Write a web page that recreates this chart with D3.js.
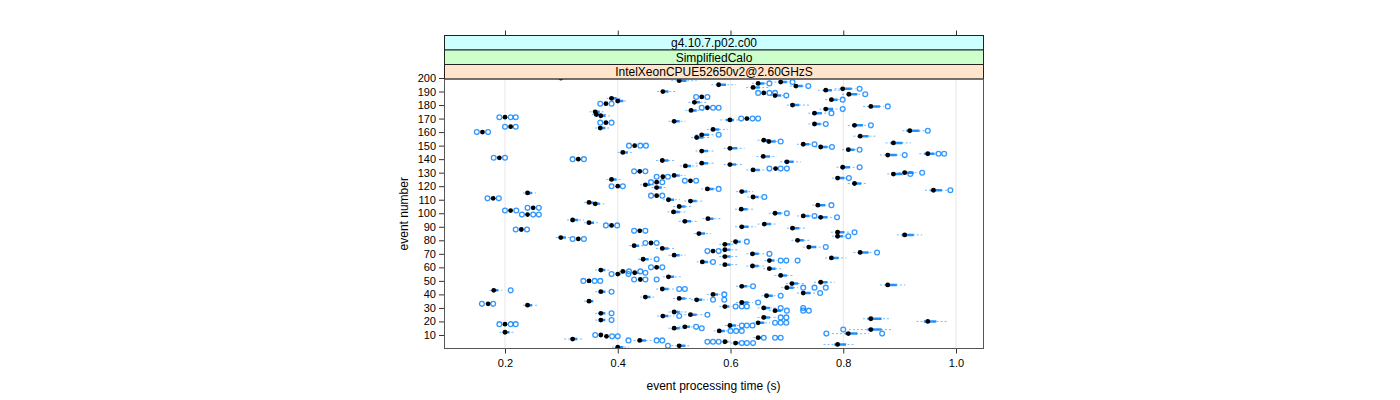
<!DOCTYPE html>
<html><head><meta charset="utf-8">
<script src="https://cdn.jsdelivr.net/npm/d3@7"></script>
<style>
body{margin:0;background:#fff}
svg{display:block}
text{font-family:"Liberation Sans",Arial,Helvetica,sans-serif}
</style>
</head><body>
<svg id="c" width="1400" height="400"></svg>
<script>
// ---- data ----
const stripLabels = ["g4.10.7.p02.c00", "SimplifiedCalo", "IntelXeonCPUE52650v2@2.60GHzS"];
const xTicks = [0.2, 0.4, 0.6, 0.8, 1.0];
const xTickLabels = ["0.2", "0.4", "0.6", "0.8", "1.0"];
const yTicks = [10,20,30,40,50,60,70,80,90,100,110,120,130,140,150,160,170,180,190,200];
const xTitle = "event processing time (s)";
const yTitle = "event number";

const eventNo = [
 200,198,197,196,195,194,193,192,191,190,
 189,188,187,186,185,184,183,182,181,180,
 179,178,177,176,175,174,173,172,171,170,
 169,168,167,166,165,164,163,162,161,160,
 158,157,156,154,153,152,151,150,149,148,
 147,146,145,144,143,142,141,140,139,138,
 137,136,135,134,133,132,131,130,129,128,
 127,126,125,124,123,122,121,120,119,118,
 117,116,115,113,112,111,110,109,108,107,
 106,105,104,103,102,101,100,99,98,97,
 96,95,94,93,92,91,90,89,88,87,
 86,85,84,83,82,81,80,79,78,77,
 76,75,74,73,72,71,70,69,68,67,
 66,65,64,62,61,60,59,58,57,56,
 55,54,53,51,50,49,48,47,46,45,
 44,43,42,41,40,39,38,37,36,35,
 34,33,32,31,30,28,27,26,25,24,
 23,22,21,20,19,18,17,16,15,14,
 13,12,11,10,9,8,7,6,5,4,
 3,2,1];

const median = [
 .299,.509,.689,.649,.579,.716,.640,.799,.769,.480,
 .659,.810,.679,.549,.389,.779,.400,.536,.379,.710,
 .849,.559,.769,.530,.360,.749,.362,.370,.200,.629,
 .599,.500,.379,.749,.820,.210,.369,.569,.918,.160,
 .549,.830,.540,.659,.668,.889,.729,.430,.760,.599,
 .809,.549,.409,.950,.879,.658,.190,.330,.479,.700,
 .549,.599,.520,.799,.680,.640,.439,.909,.889,.500,
 .480,.790,.389,.529,.469,.820,.449,.400,.469,.559,
 .960,.620,.240,.469,.640,.179,.490,.529,.349,.360,
 .755,.509,.250,.619,.210,.499,.679,.240,.729,.760,
 .560,.320,.519,.349,.660,.389,.620,.710,.229,.439,
 .790,.544,.909,.790,.299,.330,.719,.609,.459,.590,
 .429,.739,.479,.590,.569,.830,.639,.500,.590,.779,
 .445,.669,.550,.590,.639,.469,.669,.370,.409,.430,
 .400,.689,.490,.440,.349,.760,.709,.879,.620,.700,
 .479,.180,.370,.729,.569,.664,.449,.509,.540,.349,
 .620,.170,.240,.590,.659,.679,.500,.370,.529,.480,
 .659,.849,.370,.950,.649,.200,.599,.519,.500,.849,
 .580,.200,.809,.370,.380,.649,.320,.439,.590,.609,
 .790,.509,.400];

const boxLow = [
 .295,.505,.685,.645,.575,.712,.636,.795,.765,.477,
 .657,.806,.676,.547,.385,.775,.396,.532,.377,.706,
 .845,.557,.765,.526,.356,.745,.358,.367,.198,.627,
 .592,.496,.377,.745,.816,.208,.365,.565,.912,.158,
 .545,.826,.536,.655,.664,.884,.725,.428,.756,.595,
 .805,.545,.405,.944,.875,.654,.188,.328,.475,.695,
 .545,.595,.516,.795,.678,.636,.437,.905,.885,.496,
 .478,.786,.385,.527,.467,.816,.445,.398,.465,.555,
 .955,.616,.237,.467,.636,.177,.486,.525,.345,.356,
 .751,.505,.248,.615,.208,.495,.675,.238,.725,.756,
 .556,.316,.515,.345,.656,.387,.616,.706,.227,.437,
 .786,.540,.904,.786,.295,.328,.715,.605,.457,.586,
 .425,.735,.475,.586,.567,.826,.635,.496,.586,.775,
 .441,.666,.546,.586,.635,.467,.665,.366,.406,.427,
 .398,.685,.486,.438,.347,.756,.705,.874,.616,.696,
 .475,.177,.366,.725,.565,.660,.445,.505,.536,.345,
 .616,.168,.237,.586,.655,.675,.496,.366,.525,.476,
 .655,.843,.366,.943,.645,.198,.595,.515,.496,.843,
 .576,.196,.803,.368,.378,.645,.316,.435,.587,.605,
 .784,.505,.396];

const boxHigh = [
 .310,.522,.700,.660,.592,.728,.652,.815,.780,.490,
 .662,.825,.690,.552,.398,.790,.410,.546,.382,.722,
 .865,.562,.782,.540,.368,.762,.372,.378,.202,.632,
 .606,.510,.382,.760,.835,.212,.378,.580,.935,.162,
 .562,.845,.552,.670,.680,.905,.740,.432,.772,.612,
 .820,.560,.418,.962,.895,.670,.192,.332,.490,.712,
 .560,.610,.530,.812,.682,.652,.442,.925,.905,.510,
 .482,.802,.398,.532,.472,.832,.458,.402,.478,.570,
 .975,.630,.248,.472,.650,.182,.500,.540,.356,.368,
 .768,.520,.252,.630,.212,.510,.690,.242,.740,.772,
 .570,.330,.530,.358,.672,.392,.632,.722,.232,.442,
 .802,.555,.925,.800,.308,.332,.730,.618,.462,.600,
 .438,.752,.490,.600,.572,.845,.650,.510,.600,.792,
 .455,.678,.560,.600,.650,.472,.680,.378,.414,.436,
 .405,.700,.500,.442,.352,.772,.720,.895,.630,.712,
 .490,.188,.378,.742,.578,.675,.458,.520,.550,.356,
 .632,.172,.248,.598,.670,.690,.510,.378,.540,.490,
 .670,.868,.378,.965,.660,.202,.610,.528,.510,.868,
 .590,.208,.825,.372,.382,.655,.328,.450,.596,.615,
 .805,.520,.410];

const whiskerLow = [
 .288,.495,.678,.638,.566,.705,.628,.785,.755,.470,
 .655,.798,.670,.545,.380,.768,.390,.525,.375,.700,
 .835,.555,.758,.520,.350,.738,.354,.362,.196,.625,
 .582,.490,.375,.738,.808,.206,.360,.558,.905,.156,
 .538,.818,.530,.648,.658,.875,.718,.426,.750,.588,
 .798,.538,.400,.935,.865,.646,.186,.326,.468,.688,
 .538,.588,.510,.788,.676,.628,.435,.898,.878,.490,
 .476,.780,.380,.525,.465,.808,.440,.396,.460,.548,
 .945,.610,.232,.465,.630,.175,.480,.518,.340,.352,
 .745,.498,.246,.608,.206,.488,.668,.236,.718,.748,
 .550,.310,.508,.340,.648,.385,.608,.700,.225,.435,
 .778,.535,.895,.780,.290,.326,.708,.600,.455,.580,
 .420,.728,.468,.580,.565,.818,.628,.490,.580,.768,
 .436,.660,.540,.580,.628,.465,.658,.360,.402,.424,
 .396,.678,.480,.436,.345,.748,.698,.865,.610,.690,
 .468,.172,.360,.718,.558,.655,.440,.498,.530,.340,
 .610,.166,.232,.580,.648,.668,.490,.360,.518,.470,
 .648,.835,.360,.930,.640,.196,.590,.508,.490,.810,
 .570,.190,.780,.366,.376,.640,.305,.428,.582,.600,
 .765,.495,.390];

const whiskerHigh = [
 .325,.540,.705,.664,.610,.734,.668,.822,.795,.505,
 .664,.832,.694,.554,.405,.794,.418,.560,.384,.740,
 .872,.564,.792,.552,.378,.772,.380,.386,.204,.634,
 .614,.520,.384,.764,.842,.214,.386,.595,.945,.164,
 .572,.860,.565,.684,.684,.920,.744,.434,.776,.625,
 .824,.572,.428,.965,.902,.682,.194,.334,.500,.725,
 .570,.622,.542,.822,.684,.662,.444,.934,.912,.520,
 .484,.806,.405,.534,.474,.842,.465,.404,.486,.574,
 .984,.640,.255,.474,.655,.184,.510,.550,.364,.376,
 .774,.532,.254,.640,.214,.520,.694,.244,.744,.782,
 .582,.340,.542,.366,.684,.394,.645,.735,.234,.444,
 .812,.565,.940,.804,.318,.334,.742,.622,.464,.612,
 .446,.762,.500,.612,.574,.852,.660,.520,.612,.805,
 .462,.682,.565,.612,.660,.474,.692,.386,.416,.440,
 .410,.712,.512,.444,.354,.785,.732,.910,.636,.720,
 .500,.195,.382,.750,.582,.682,.465,.532,.560,.362,
 .640,.174,.258,.602,.680,.695,.522,.382,.550,.500,
 .680,.885,.382,.985,.670,.204,.614,.534,.525,.885,
 .595,.215,.845,.374,.384,.656,.338,.460,.600,.617,
 .820,.530,.420];

const outliers = [
 [],[],[.710],[.669],[],[.738],[],[.829],[],[],
 [.649,.669,.679],[.839],[.699],[.539,.559],[],[.799],[],[],[.369,.389],[],
 [.879],[.549,.569,.579],[.799],[],[],[.779],[],[],[.190,.210,.219],[.619,.639,.649],
 [],[],[.369,.389],[.769],[.849],[.200,.219],[],[],[.950],[.150,.170],
 [.579],[],[],[],[.689],[],[.749],[.420,.440,.450],[.780],[],
 [.829],[],[],[.969,.979],[.909],[],[.180,.200],[.320,.340],[],[],
 [],[],[],[.829],[.669,.689,.700],[],[.429,.449],[.940],[.919],[],
 [.469,.489],[.810],[],[.519,.539],[.459,.479],[],[],[.389,.409],[],[.579],
 [.990],[],[],[.459,.479],[.660],[.169,.189],[],[],[],[],
 [.779],[],[.240,.260],[],[.200,.220],[],[.700],[.230,.250,.260],[.749],[.789],
 [],[],[],[],[],[.379,.399],[],[],[.219,.239],[.429,.449],
 [.820],[],[],[.809],[],[.320,.340],[],[.629],[.449,.469],[],
 [],[.769],[],[],[.559,.579],[.860],[.669],[],[],[],
 [.469],[.689,.699,.719],[.569],[],[],[.459,.479],[],[],[.420,.440],[.449],
 [.389,.419],[],[],[.429,.449,.469],[.339,.359,.369],[],[],[],[.640],[.729,.749,.769],
 [.509,.519],[.210],[.389],[.759],[.589],[.689],[],[],[.569,.589],[],
 [.649],[.159,.179],[],[.609,.620,.629],[.689,.729],[.700,.729,.739],[],[.389],[.559],[.509],
 [.689,.699],[],[.389],[],[.679,.689,.699],[.190,.210,.219],[.620,.629,.639],[.539],[.549],[.800],
 [.600,.610,.620],[],[.770,.869],[.360],[.390,.400],[.659,.679,.689],[],[.419,.469,.479],[.559,.569,.579],[.620,.629,.640],
 [],[.489],[]];

// ---- layout ----
const svg = d3.select("#c");
const P = {l: 444, r: 983, t: 79, b: 348.5};
const stripTop = 35.5, stripH = 14.5;
const blue = "#0080ff";

const x = d3.scaleLinear().domain([0.2, 1.0]).range([505, 956]);
const y = d3.scaleLinear().domain([0, 200]).range([348.5, 78]);

svg.append("defs").append("clipPath").attr("id", "clip")
  .append("rect").attr("x", P.l).attr("y", P.t).attr("width", P.r - P.l).attr("height", P.b - P.t);

// gridlines
svg.append("g").selectAll("line").data(xTicks).join("line")
  .attr("x1", d => x(d)).attr("x2", d => x(d))
  .attr("y1", P.t).attr("y2", P.b)
  .attr("stroke", "#e6e6e6").attr("stroke-width", 1);

// strips (outermost at top)
const stripColors = ["#ccffff", "#ccffcc", "#ffe5cc"];
const sg = svg.append("g");
stripLabels.forEach((lab, i) => {
  const y0 = stripTop + i * stripH;
  sg.append("rect").attr("x", P.l + 0.5).attr("y", y0).attr("width", P.r - P.l).attr("height", stripH)
    .attr("fill", stripColors[i]).attr("stroke", "#222").attr("stroke-width", 1);
  sg.append("text").attr("x", (P.l + P.r) / 2 + 0.5).attr("y", y0 + stripH / 2 + 4.3)
    .attr("text-anchor", "middle").attr("font-size", 12).attr("fill", "#000").text(lab);
});

// axes
const axB = svg.append("g").attr("transform", `translate(0,${P.b})`)
  .call(d3.axisBottom(x).tickValues(xTicks).tickFormat((d, i) => xTickLabels[i]).tickSize(5).tickPadding(6));
const axT = svg.append("g").attr("transform", `translate(0,${stripTop})`)
  .call(d3.axisTop(x).tickValues(xTicks).tickFormat("").tickSize(5));
const axL = svg.append("g").attr("transform", `translate(${P.l},0)`)
  .call(d3.axisLeft(y).tickValues(yTicks).tickSize(5).tickPadding(3));
[axB, axT, axL].forEach(a => {
  a.select(".domain").remove();
  a.selectAll("line").attr("stroke", "#333");
  a.selectAll("text").attr("font-size", 11).attr("fill", "#000")
   .attr("font-family", '"Liberation Sans",Arial,sans-serif');
});

// marks
const rows = eventNo.map((e, i) => ({e, m: median[i], q1: boxLow[i], q3: boxHigh[i], wl: whiskerLow[i], wh: whiskerHigh[i], out: outliers[i]}));
const mg = svg.append("g").attr("clip-path", "url(#clip)");

mg.append("g").selectAll("line").data(rows).join("line")
  .attr("x1", d => x(d.wl)).attr("x2", d => x(d.wh))
  .attr("y1", d => y(d.e)).attr("y2", d => y(d.e))
  .attr("stroke", blue).attr("stroke-opacity", 0.55).attr("stroke-width", 1)
  .attr("stroke-dasharray", "2,2");

mg.append("g").selectAll("line").data(rows).join("line")
  .attr("x1", d => x(d.q1)).attr("x2", d => x(d.q3))
  .attr("y1", d => y(d.e)).attr("y2", d => y(d.e))
  .attr("stroke", blue).attr("stroke-opacity", 0.85).attr("stroke-width", 2.5);

const outPts = rows.flatMap(d => d.out.map(v => ({e: d.e, v})));
mg.append("g").selectAll("circle").data(outPts).join("circle")
  .attr("cx", d => x(d.v)).attr("cy", d => y(d.e)).attr("r", 2.4)
  .attr("fill", "none").attr("stroke", blue).attr("stroke-width", 1.3).attr("stroke-opacity", 0.8);

mg.append("g").selectAll("circle").data(rows).join("circle")
  .attr("cx", d => x(d.m)).attr("cy", d => y(d.e)).attr("r", 2.4)
  .attr("fill", "#000");

// panel border
svg.append("rect").attr("x", P.l + 0.5).attr("y", P.t).attr("width", P.r - P.l).attr("height", P.b - P.t)
  .attr("fill", "none").attr("stroke", "#555").attr("stroke-width", 1);

// titles
svg.append("text").attr("x", (P.l + P.r) / 2).attr("y", 390).attr("text-anchor", "middle")
  .attr("font-size", 12).text(xTitle);
svg.append("text").attr("transform", `translate(408,${(P.t + P.b) / 2}) rotate(-90)`)
  .attr("text-anchor", "middle").attr("font-size", 12).text(yTitle);
</script>
</body></html>
